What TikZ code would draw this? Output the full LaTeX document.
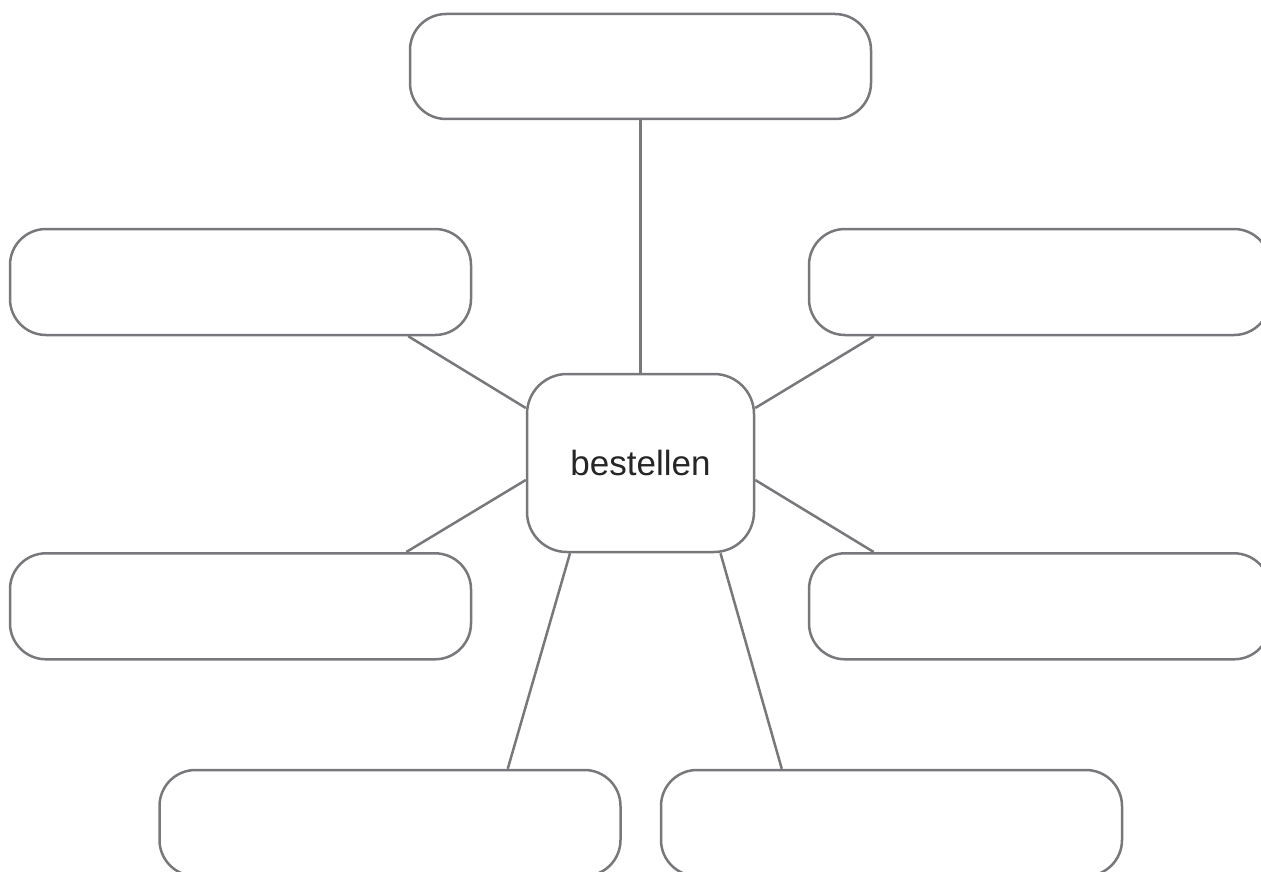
\documentclass[tikz,border=0pt]{standalone}
\usepackage{fontspec}
\setmainfont{Liberation Sans}
\usepackage{tikz}
\usetikzlibrary{positioning,calc}

\definecolor{edgegray}{RGB}{120,120,124}

\begin{document}
\begin{tikzpicture}[
  x=1pt,y=-1pt,
  line width=2.5pt,
  box/.style={draw=edgegray,fill=white,rounded corners=36pt,minimum width=461pt,minimum height=106pt,inner sep=0pt},
  hub/.style={draw=edgegray,fill=white,rounded corners=40pt,minimum width=227pt,minimum height=178pt,inner sep=0pt,
    font=\fontsize{35}{42}\selectfont,text=black!85},
  link/.style={draw=edgegray},
]
\clip (0,0) rectangle (1261,872);
\fill[white] (0,0) rectangle (1261,872);

% centre word
\node[hub] (ctr) at (640.5,463) {bestellen};

% empty boxes round it
\node[box,minimum height=105pt] (top) at (640.5,66.5) {};
\node[box] (lu) at (240.5,282) {};
\node[box] (ll) at (240.5,606.3) {};
\node[box] (ru) at (1039.5,282) {};
\node[box] (rl) at (1039.5,606.3) {};
\node[box] (bl) at (390,823) {};
\node[box] (br) at (891.5,823) {};

% spokes
\draw[link] (top.south) -- (ctr.north);
\draw[link] ([xshift=-64pt]lu.south east) -- ([yshift=55pt]ctr.west);
\draw[link] ([xshift=-66pt]ll.north east) -- ([yshift=-17pt]ctr.west);
\draw[link] ([xshift=66pt]ru.south west) -- ([yshift=55pt]ctr.east);
\draw[link] ([xshift=66pt]rl.north west) -- ([yshift=-17pt]ctr.east);
\draw[link] ([xshift=-114pt]bl.north east) -- ([xshift=-70.5pt]ctr.south);
\draw[link] ([xshift=122pt]br.north west) -- ([xshift=80pt]ctr.south);
\end{tikzpicture}
\end{document}
